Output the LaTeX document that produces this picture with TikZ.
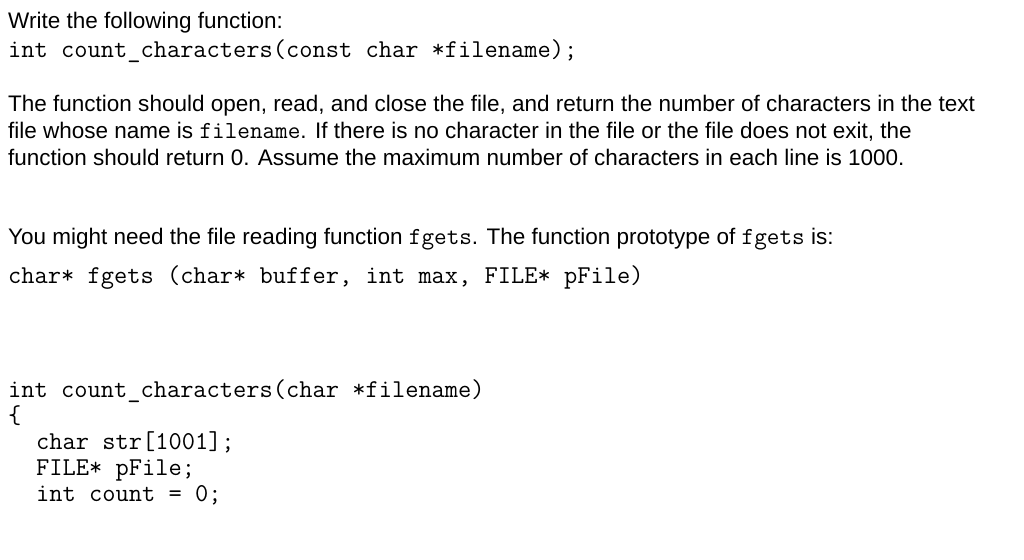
\documentclass[tikz,border=0pt]{standalone}
\usepackage{fontspec}
\setmainfont{Liberation Sans}
\begin{document}
\begin{tikzpicture}[x=1pt,y=-1pt,
  txt/.style={anchor=base west,inner sep=0pt,font=\fontsize{22.5}{26}\selectfont},
  code/.style={anchor=base west,inner sep=0pt,font=\fontsize{25.7}{28}\ttfamily}]
\newcommand{\im}[1]{{\fontsize{24.5}{26}\ttfamily #1}}
\useasboundingbox (0,0) rectangle (1024,559);
\node[txt] (t1) at (8,29) {Write the following function:};
\node[code] (c1) at (8,58) {int count\_characters(const char *filename);};
\node[txt] (p1) at (8,111) {The function should open, read, and close the file, and return the number of characters in the text};
\node[txt] (p2) at (8,138) {file whose name is \im{filename}. If there is no character in the file or the file does not exit, the};
\node[txt] (p3) at (8,165) {function should return 0. Assume the maximum number of characters in each line is 1000.};
\node[txt] (p4) at (8,244) {You might need the file reading function \im{fgets}. The function prototype of \im{fgets} is:};
\node[code] (c2) at (8,283) {char* fgets (char* buffer, int max, FILE* pFile)};
\node[code] (c3) at (8,397) {int count\_characters(char *filename)};
\node[code] (c4) at (8,423) {\{};
\node[code] (c5) at (36,449) {char str[1001];};
\node[code] (c6) at (36,475) {FILE* pFile;};
\node[code] (c7) at (36,501) {int count = 0;};
\end{tikzpicture}
\end{document}
